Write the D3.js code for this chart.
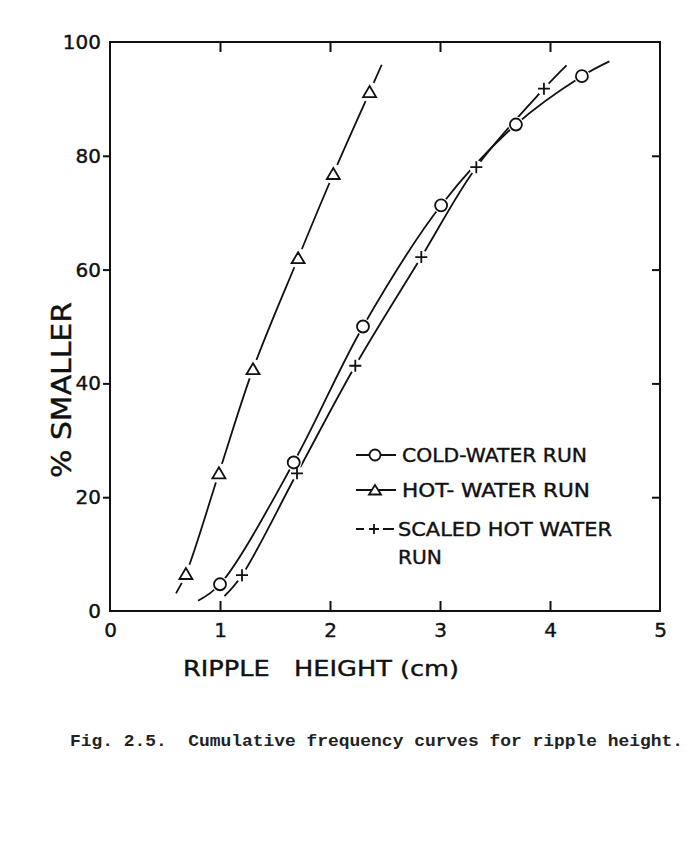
<!DOCTYPE html>
<html>
<head>
<meta charset="utf-8">
<title>Cumulative frequency curves for ripple height</title>
<script src="https://d3js.org/d3.v7.min.js"></script>
<style>
  body { margin: 0; background: #fff; }
  .axis text { font-family: "DejaVu Sans", sans-serif; font-size: 20px; fill: #111; stroke: #111; stroke-width: 0.4px; }
  .axis line { stroke: #111; stroke-width: 2px; }
  .lbl { stroke: #111; stroke-width: 0.4px; }
</style>
</head>
<body>
<script>
// ripple height (cm) and % smaller
var coldX = [1.0, 1.67, 2.30, 3.01, 3.69, 4.29];
var coldY = [4.7, 26.1, 50.0, 71.3, 85.5, 94.0];
var coldStart = [0.80, 1.8], coldEnd = [4.54, 96.6];

var hotX = [0.69, 0.99, 1.30, 1.71, 2.03, 2.36];
var hotY = [6.5, 24.2, 42.5, 62.0, 76.8, 91.2];
var hotStart = [0.60, 3.1], hotEnd = [2.47, 96.0];

var scaledX = [1.20, 1.70, 2.23, 2.83, 3.33, 3.945];
var scaledY = [6.3, 24.2, 43.1, 62.2, 78.0, 91.8];
var scaledStart = [1.04, 2.6], scaledEnd = [4.15, 95.9];

var xTicks = [0, 1, 2, 3, 4, 5];
var yTicks = [0, 20, 40, 60, 80, 100];

var W = 696, H = 864;
var pL = 110, pR = 660, pT = 42, pB = 611;   // plot frame

var svg = d3.select("body").append("svg")
  .attr("width", W).attr("height", H);
svg.append("rect").attr("width", W).attr("height", H).attr("fill", "#fff");

var x = d3.scaleLinear().domain([0, 5]).range([pL, pR]);
var y = d3.scaleLinear().domain([0, 100]).range([pB, pT]);

// axes: ticks inward except left side (outward)
var inner = function(v, lo, hi) { return v > lo && v < hi; };

var gb = svg.append("g").attr("class", "axis")
  .attr("transform", "translate(0," + pB + ")")
  .call(d3.axisBottom(x).tickValues(xTicks).tickSize(-10).tickPadding(12).tickFormat(d3.format("d")));
var gt = svg.append("g").attr("class", "axis")
  .attr("transform", "translate(0," + pT + ")")
  .call(d3.axisTop(x).tickValues(xTicks).tickSize(-10).tickFormat(""));
var gl = svg.append("g").attr("class", "axis")
  .attr("transform", "translate(" + pL + ",0)")
  .call(d3.axisLeft(y).tickValues(yTicks).tickSize(7).tickPadding(2).tickFormat(d3.format("d")));
var gr = svg.append("g").attr("class", "axis")
  .attr("transform", "translate(" + pR + ",0)")
  .call(d3.axisRight(y).tickValues(yTicks).tickSize(-8).tickFormat(""));

[gb, gt, gl, gr].forEach(function(g) {
  g.select(".domain").remove();
});
[gb, gt].forEach(function(g) {
  g.selectAll(".tick").filter(function(d) { return !inner(d, 0, 5); }).select("line").remove();
});
[gl, gr].forEach(function(g) {
  g.selectAll(".tick").filter(function(d) { return !inner(d, 0, 100); }).select("line").remove();
});
gb.selectAll("text").attr("dy", "0.71em");

svg.append("rect")
  .attr("x", pL).attr("y", pT)
  .attr("width", pR - pL).attr("height", pB - pT)
  .attr("fill", "none").attr("stroke", "#111").attr("stroke-width", 2);

// curves
function pts(xs, ys) { return xs.map(function(v, i) { return [v, ys[i]]; }); }
var cold = pts(coldX, coldY), hot = pts(hotX, hotY), scaled = pts(scaledX, scaledY);

var line = d3.line()
  .x(function(d) { return x(d[0]); })
  .y(function(d) { return y(d[1]); })
  .curve(d3.curveCatmullRom.alpha(0.5));

[[coldStart].concat(cold, [coldEnd]),
 [hotStart].concat(hot, [hotEnd]),
 [scaledStart].concat(scaled, [scaledEnd])].forEach(function(c) {
  svg.append("path").attr("d", line(c))
    .attr("fill", "none").attr("stroke", "#111").attr("stroke-width", 1.8);
});

// white halos so the lines break round the markers
var halo = svg.append("g").attr("fill", "#fff");
halo.selectAll(".hc").data(cold).enter().append("circle")
  .attr("cx", function(d) { return x(d[0]); }).attr("cy", function(d) { return y(d[1]); }).attr("r", 8);
halo.selectAll(".ht").data(hot).enter().append("circle")
  .attr("cx", function(d) { return x(d[0]); }).attr("cy", function(d) { return y(d[1]); }).attr("r", 10);
halo.selectAll(".hs").data(scaled).enter().append("circle")
  .attr("cx", function(d) { return x(d[0]); }).attr("cy", function(d) { return y(d[1]); }).attr("r", 7);

var tri = "M0,-6L6.5,5L-6.5,5Z";
var plus = "M-6,0H6M0,-6V6";

svg.selectAll(".mc").data(cold).enter().append("circle")
  .attr("cx", function(d) { return x(d[0]); }).attr("cy", function(d) { return y(d[1]); })
  .attr("r", 6).attr("fill", "#fff").attr("stroke", "#111").attr("stroke-width", 1.8);
svg.selectAll(".mt").data(hot).enter().append("path")
  .attr("transform", function(d) { return "translate(" + x(d[0]) + "," + y(d[1]) + ")"; })
  .attr("d", tri).attr("fill", "#fff").attr("stroke", "#111").attr("stroke-width", 1.8);
svg.selectAll(".ms").data(scaled).enter().append("path")
  .attr("transform", function(d) { return "translate(" + x(d[0]) + "," + y(d[1]) + ")"; })
  .attr("d", plus).attr("fill", "none").attr("stroke", "#111").attr("stroke-width", 1.8);

// legend
var lg = svg.append("g").attr("font-family", "DejaVu Sans, sans-serif").attr("font-size", "19px").attr("fill", "#111");
var rows = [
  { y: 455, label: "COLD-WATER RUN", w: 185, sym: "o" },
  { y: 490, label: "HOT- WATER RUN", w: 188, sym: "t" },
  { y: 529, label: "SCALED HOT WATER", w: 214, sym: "p" },
  { y: 557, label: "RUN", w: 44, sym: "" }
];
rows.forEach(function(r) {
  var tx = r.sym === "" || r.sym === "p" ? 398 : 402;
  lg.append("text").attr("class", "lbl").attr("x", tx).attr("y", r.y + 7).text(r.label)
    .attr("textLength", r.w).attr("lengthAdjust", "spacingAndGlyphs");
  if (r.sym === "o" || r.sym === "t") {
    lg.append("line").attr("x1", 356).attr("x2", 396).attr("y1", r.y).attr("y2", r.y)
      .attr("stroke", "#111").attr("stroke-width", 1.8);
    if (r.sym === "o") {
      lg.append("circle").attr("cx", 375).attr("cy", r.y).attr("r", 5.5)
        .attr("fill", "#fff").attr("stroke", "#111").attr("stroke-width", 1.8);
    } else {
      lg.append("path").attr("transform", "translate(375," + r.y + ")").attr("d", "M0,-5L6,4.5L-6,4.5Z")
        .attr("fill", "#fff").attr("stroke", "#111").attr("stroke-width", 1.8);
    }
  } else if (r.sym === "p") {
    lg.append("path").attr("d", "M356," + r.y + "H364M383," + r.y + "H394")
      .attr("stroke", "#111").attr("stroke-width", 1.8);
    lg.append("path").attr("transform", "translate(374," + r.y + ")").attr("d", "M-5,0H5M0,-5V5")
      .attr("stroke", "#111").attr("stroke-width", 1.8);
  }
});

// axis titles
svg.append("text").attr("class", "lbl")
  .attr("transform", "translate(71,390) rotate(-90)")
  .attr("text-anchor", "middle")
  .attr("font-family", "DejaVu Sans, sans-serif").attr("font-size", "27px").attr("fill", "#111")
  .attr("textLength", 176).attr("lengthAdjust", "spacingAndGlyphs")
  .text("% SMALLER");

svg.append("text").attr("class", "lbl")
  .attr("x", 183).attr("y", 676)
  .attr("font-family", "DejaVu Sans, sans-serif").attr("font-size", "22px").attr("fill", "#111")
  .attr("textLength", 276).attr("lengthAdjust", "spacingAndGlyphs")
  .attr("xml:space", "preserve")
  .text("RIPPLE   HEIGHT (cm)");

// caption
svg.append("text")
  .attr("x", 70).attr("y", 746)
  .attr("font-family", "Liberation Mono, monospace").attr("font-size", "17px")
  .attr("font-weight", "bold").attr("fill", "#222")
  .attr("textLength", 613).attr("lengthAdjust", "spacingAndGlyphs")
  .attr("xml:space", "preserve")
  .text("Fig. 2.5.  Cumulative frequency curves for ripple height.");
</script>
</body>
</html>
